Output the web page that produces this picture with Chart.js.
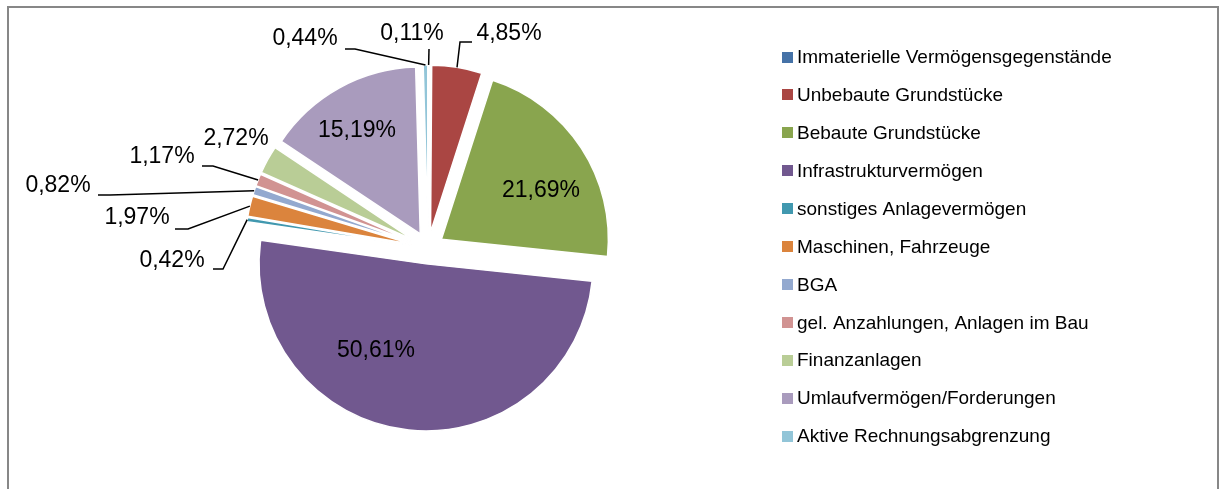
<!DOCTYPE html>
<html>
<head>
<meta charset="utf-8">
<script src="https://cdn.jsdelivr.net/npm/chart.js@4/dist/chart.umd.min.js"></script>
<style>
  html, body { margin: 0; padding: 0; background: #fff; }
  #wrap { position: absolute; left: 0; top: 0; width: 1219px; height: 489px; }
</style>
</head>
<body>
<div id="wrap"><canvas id="c" width="1219" height="489"></canvas></div>
<script>
// ---- data ----
const categories = [
  'Immaterielle Vermögensgegenstände',
  'Unbebaute Grundstücke',
  'Bebaute Grundstücke',
  'Infrastrukturvermögen',
  'sonstiges Anlagevermögen',
  'Maschinen, Fahrzeuge',
  'BGA',
  'gel. Anzahlungen, Anlagen im Bau',
  'Finanzanlagen',
  'Umlaufvermögen/Forderungen',
  'Aktive Rechnungsabgrenzung'
];
const shares = [0.11, 4.85, 21.69, 50.61, 0.42, 1.97, 0.82, 1.17, 2.72, 15.19, 0.44];
const colors = ['#4572A7', '#AA4643', '#89A54E', '#71588F', '#4198AF', '#DB843D',
                '#93A9CF', '#D19392', '#B9CD96', '#A99BBD', '#92C5D8'];

// ---- label layout (text centre; leader: [elbow, end near text]) ----
const labelLayout = [
  { t: [412, 34], lead: [[429, 49]] },
  { t: [509, 34], lead: [[460, 42], [472, 42]] },
  { t: [541, 191] },
  { t: [376, 351] },
  { t: [172, 261], lead: [[223, 269], [213, 269]] },
  { t: [137, 218], lead: [[188, 229], [175, 229]] },
  { t: [58, 186],  lead: [[110, 195], [98, 195]] },
  { t: [162, 157], lead: [[213, 166], [202, 166]] },
  { t: [236, 139] },
  { t: [357, 131] },
  { t: [305, 39],  lead: [[355, 49], [345, 49]] }
];

const EXPLODE = 16;
const FONT = '"Liberation Sans", Arial, sans-serif';

function fmt(v) { return v.toFixed(2).replace('.', ',') + '%'; }

const explodePlugin = {
  id: 'explode',
  afterUpdate(chart) {
    chart.getDatasetMeta(0).data.forEach(arc => {
      const m = (arc.startAngle + arc.endAngle) / 2;
      arc.x += EXPLODE * Math.cos(m);
      arc.y += EXPLODE * Math.sin(m);
    });
  }
};

const framePlugin = {
  id: 'frame',
  beforeDraw(chart) {
    const ctx = chart.ctx;
    ctx.save();
    ctx.strokeStyle = '#878787';
    ctx.lineWidth = 2;
    ctx.beginPath();
    ctx.moveTo(8, 520); ctx.lineTo(8, 7); ctx.lineTo(1218, 7); ctx.lineTo(1218, 520);
    ctx.stroke();
    ctx.restore();
  }
};

const labelPlugin = {
  id: 'labels',
  afterDatasetsDraw(chart) {
    const ctx = chart.ctx;
    const arcs = chart.getDatasetMeta(0).data;
    ctx.save();
    ctx.strokeStyle = '#000';
    ctx.lineWidth = 1.5;
    arcs.forEach((arc, i) => {
      const L = labelLayout[i];
      if (L.lead) {
        const m = (arc.startAngle + arc.endAngle) / 2;
        const ex = arc.x + arc.outerRadius * Math.cos(m);
        const ey = arc.y + arc.outerRadius * Math.sin(m);
        ctx.beginPath();
        ctx.moveTo(ex, ey);
        L.lead.forEach(p => ctx.lineTo(p[0], p[1]));
        ctx.stroke();
      }
    });
    ctx.fillStyle = '#000';
    ctx.font = '23px ' + FONT;
    ctx.textAlign = 'center';
    ctx.textBaseline = 'middle';
    shares.forEach((v, i) => {
      const L = labelLayout[i];
      ctx.fillText(fmt(v), L.t[0], L.t[1]);
    });
    ctx.restore();
  }
};

const legendPlugin = {
  id: 'customLegend',
  afterDraw(chart) {
    const ctx = chart.ctx;
    ctx.save();
    ctx.font = '19px ' + FONT;
    ctx.textBaseline = 'middle';
    ctx.textAlign = 'left';
    categories.forEach((c, i) => {
      const y = 57 + i * 37.9;
      ctx.fillStyle = colors[i];
      ctx.fillRect(782, Math.round(y - 5.5), 11, 11);
      ctx.fillStyle = '#000';
      ctx.fillText(c, 797, y + 1);
    });
    ctx.restore();
  }
};

new Chart(document.getElementById('c'), {
  type: 'pie',
  data: {
    labels: categories,
    datasets: [{
      data: shares,
      backgroundColor: colors,
      borderColor: '#ffffff',
      borderWidth: 1.5
    }]
  },
  options: {
    responsive: false,
    animation: false,
    events: [],
    radius: 167,
    layout: { padding: { left: 0, right: 363, top: 10, bottom: 3 } },
    plugins: {
      legend: { display: false },
      tooltip: { enabled: false },
      title: { display: false }
    }
  },
  plugins: [framePlugin, explodePlugin, labelPlugin, legendPlugin]
});
</script>
</body>
</html>
